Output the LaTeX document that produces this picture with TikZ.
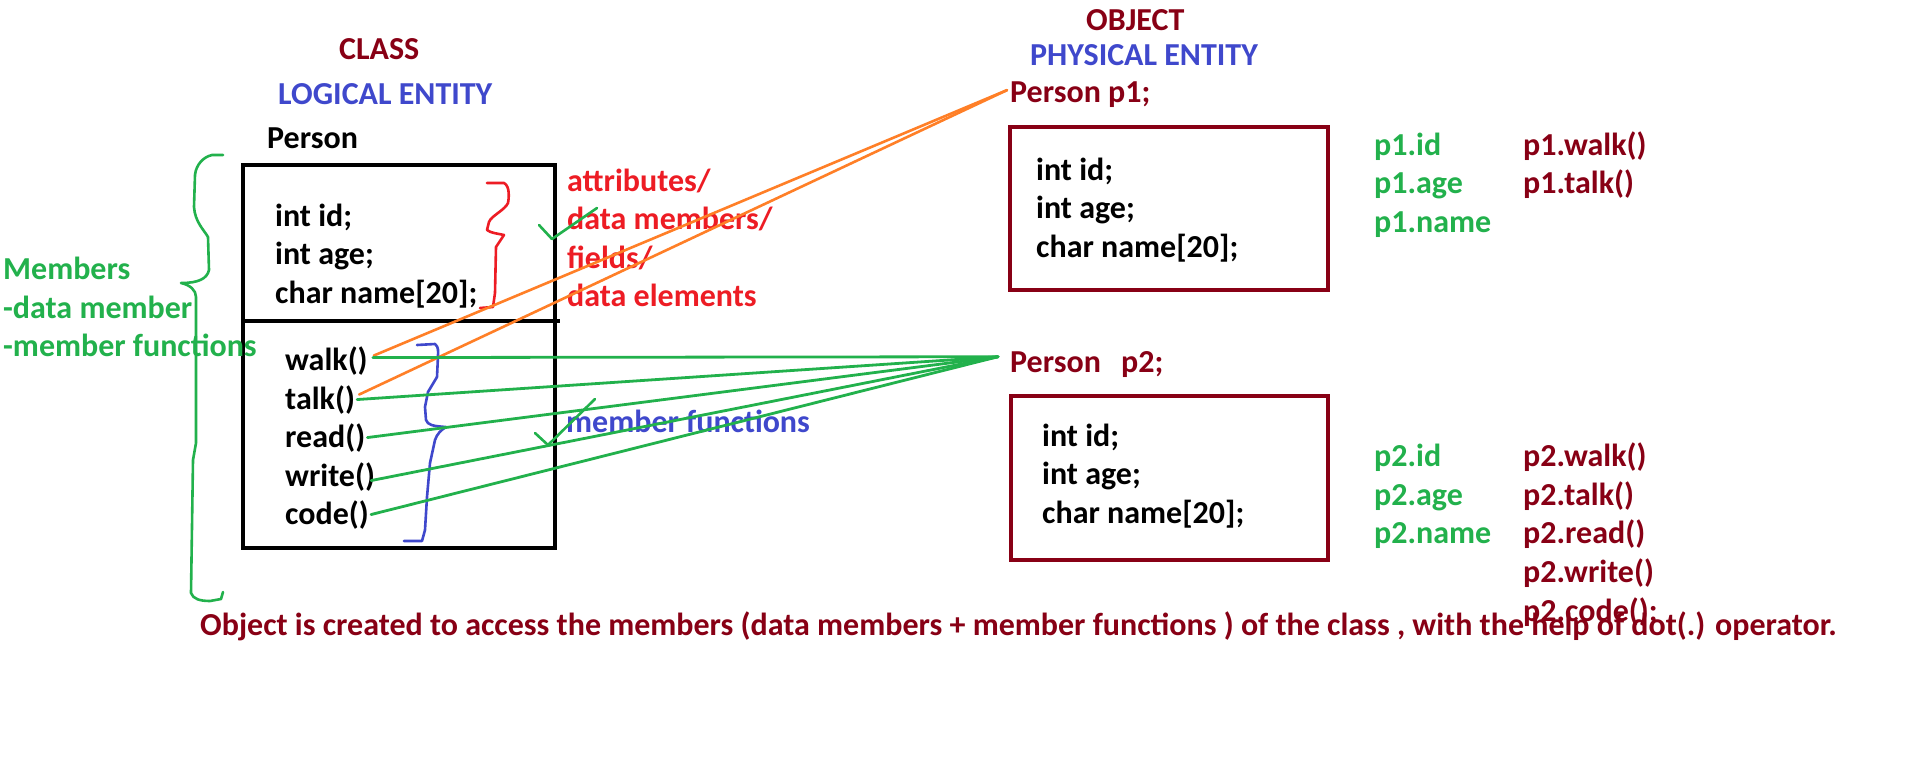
\documentclass[tikz,border=0pt]{standalone}
\usepackage{fontspec}
\setmainfont{Carlito}
\definecolor{pdred}{RGB}{136,0,21}
\definecolor{pblue}{RGB}{63,72,204}
\definecolor{pgreen}{RGB}{34,177,76}
\definecolor{pred}{RGB}{237,28,36}
\definecolor{porange}{RGB}{255,127,39}
\begin{document}
\begin{tikzpicture}[x=1pt,y=-1pt,
  txt/.style={anchor=base west, inner sep=0pt, font=\fontsize{32}{39}\selectfont\bfseries},
  blackbox/.style={draw=black, line width=4.5pt, outer sep=0pt, inner sep=0pt, anchor=north west},
  redbox/.style={draw=pdred, line width=4.5pt, outer sep=0pt, inner sep=0pt, anchor=north west},
  gline/.style={draw=pgreen, line width=2.8pt, line cap=round},
  oline/.style={draw=porange, line width=2.6pt, line cap=round},
  hand/.style={line width=2.6pt, line cap=round, line join=round}]
\useasboundingbox[fill=white] (0,0) rectangle (1914,763);

% ---------- headings ----------
\node[txt, text=pdred] (class) at (339,59) {CLASS};
\node[txt, text=pblue] (logical) at (278,104) {LOGICAL ENTITY};
\node[txt] (person) at (267,148) {Person};

\node[txt, text=pdred] (object) at (1086,30) {OBJECT};
\node[txt, text=pblue] (physical) at (1030,65) {PHYSICAL ENTITY};

% ---------- class box ----------
\node[blackbox, minimum width=312pt, minimum height=383pt] (classbox) at (243,165) {};
\draw[line width=4.5pt] (243,321) -- (560,321);

\node[txt] (cid) at (275,226) {int id;};
\node[txt] (cage) at (275,264) {int age;};
\node[txt] (cname) at (275,303) {char name[20];};

\node[txt] (walk) at (285,370) {walk()};
\node[txt] (talk) at (285,409) {talk()};
\node[txt] (read) at (285,447) {read()};
\node[txt] (write) at (285,486) {write()};
\node[txt] (code) at (285,524) {code()};

% ---------- annotations ----------
\node[txt, text=pred] (attr1) at (567,191) {attributes/};
\node[txt, text=pred] (attr2) at (567,229) {data members/};
\node[txt, text=pred] (attr3) at (567,268) {fields/};
\node[txt, text=pred] (attr4) at (567,306) {data elements};

\node[txt, text=pgreen] (mem1) at (3,279) {Members};
\node[txt, text=pgreen] (mem2) at (3,318) {-data member};
\node[txt, text=pgreen] (mem3) at (3,356) {-member functions};

\node[txt, text=pblue] (mfun) at (566,432) {member functions};

% red brace
\draw[hand, pred] (487,183) -- (504,183) .. controls (510,186) and (509,198) .. (508,203)
  .. controls (505,210) and (491,216) .. (489,222) -- (487,230)
  .. controls (490,233) and (500,234) .. (504,235) -- (496,247) -- (495,293)
  -- (493,307) -- (480,308);
% blue brace
\draw[hand, pblue] (417,345) -- (435,344) .. controls (439,347) and (438,352) .. (438,356)
  -- (437,377) -- (428,392) -- (425,407) -- (426,420) .. controls (428,425) and (432,426) .. (446,427)
  .. controls (441,430) and (437,434) .. (435,440) -- (430,463) -- (427,497) -- (425,530)
  -- (422,541) -- (404,541);
% green big brace
\draw[hand, pgreen] (223,155) -- (212,155) .. controls (203,157) and (196,165) .. (195,175)
  -- (194,207) .. controls (195,222) and (204,230) .. (208,237) -- (209,270)
  .. controls (207,279) and (198,283) .. (181,283)
  .. controls (190,285) and (196,290) .. (196,297) -- (196,443) -- (193,460) -- (191,593)
  .. controls (193,599) and (200,601) .. (210,601) -- (221,599) -- (223,592);
% check marks
\draw[hand, pgreen] (539,225) -- (552,239) -- (597,208);
\draw[hand, pgreen] (535,433) -- (548,445) -- (595,399);

% ---------- objects ----------
\node[txt, text=pdred] (pp1) at (1010,102) {Person p1;};
\node[redbox, minimum width=318pt, minimum height=163pt] (box1) at (1010,127) {};
\node[txt] (o1id) at (1036,180) {int id;};
\node[txt] (o1age) at (1036,218) {int age;};
\node[txt] (o1name) at (1036,257) {char name[20];};

\node[txt, text=pgreen] (p1id) at (1374,155) {p1.id};
\node[txt, text=pgreen] (p1age) at (1374,193) {p1.age};
\node[txt, text=pgreen] (p1name) at (1374,232) {p1.name};
\node[txt, text=pdred] (p1walk) at (1523,155) {p1.walk()};
\node[txt, text=pdred] (p1talk) at (1523,193) {p1.talk()};

\node[txt, text=pdred] (pp2) at (1010,372) {Person};
\node[txt, text=pdred] (pp2b) at (1121,372) {p2;};
\node[redbox, minimum width=317pt, minimum height=164pt] (box2) at (1011,396) {};
\node[txt] (o2id) at (1042,446) {int id;};
\node[txt] (o2age) at (1042,484) {int age;};
\node[txt] (o2name) at (1042,523) {char name[20];};

\node[txt, text=pgreen] (p2id) at (1374,466) {p2.id};
\node[txt, text=pgreen] (p2age) at (1374,505) {p2.age};
\node[txt, text=pgreen] (p2name) at (1374,543) {p2.name};
\node[txt, text=pdred] (p2walk) at (1523,466) {p2.walk()};
\node[txt, text=pdred] (p2talk) at (1523,505) {p2.talk()};
\node[txt, text=pdred] (p2read) at (1523,543) {p2.read()};
\node[txt, text=pdred] (p2write) at (1523,582) {p2.write()};
\node[txt, text=pdred] (p2code) at (1523,621) {p2.code();};

\node[txt, text=pdred] (note) at (200,635) {Object is created to access the members (data members + member functions ) of the class , with the help of dot(.) operator.};

% ---------- connectors ----------
\coordinate (p1tip) at ([xshift=-3pt,yshift=4pt]pp1.west);
\coordinate (p2tip) at ([xshift=-12pt,yshift=5pt]pp2.west);
\draw[oline] ([xshift=6pt,yshift=5pt]walk.east) -- (p1tip);
\draw[oline] ([xshift=4pt,yshift=5pt]talk.east) -- (p1tip);
\draw[gline] ([xshift=5pt,yshift=3pt]walk.east) -- (p2tip);
\draw[gline] ([xshift=2pt,yshift=0pt]talk.east) -- (p2tip);
\draw[gline] ([xshift=2pt,yshift=0pt]read.east) -- (p2tip);
\draw[gline] ([xshift=-4pt,yshift=-4pt]write.east) -- (p2tip);
\draw[gline] ([xshift=2pt,yshift=0pt]code.east) -- (p2tip);
\end{tikzpicture}
\end{document}
